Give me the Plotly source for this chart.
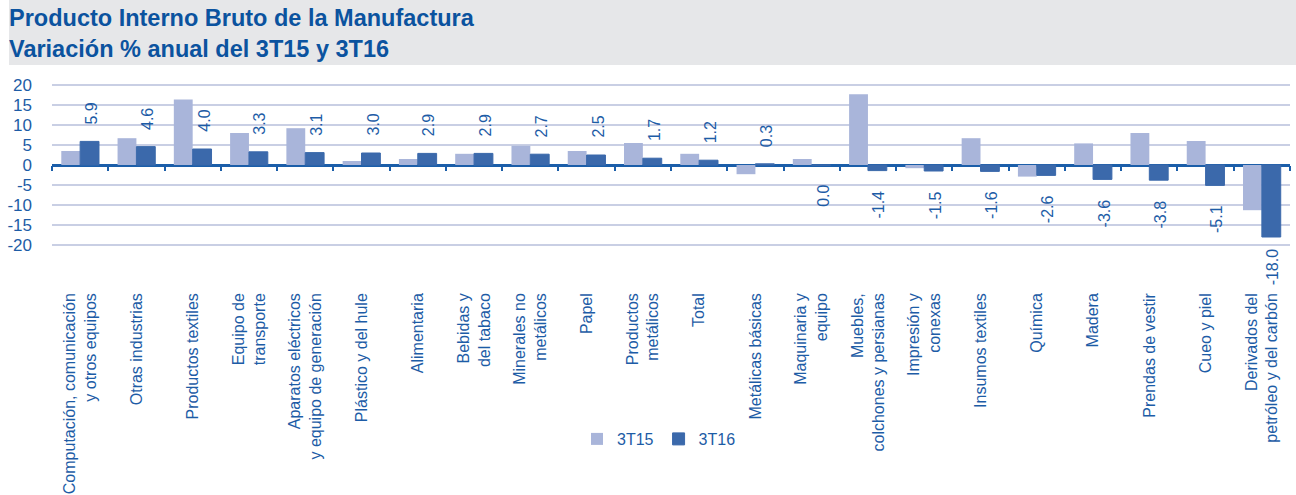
import plotly.graph_objects as go

# ---------------- data ----------------
categories = [
    "Computación, comunicación<br>y otros equipos",
    "Otras industrias",
    "Productos textiles",
    "Equipo de<br>transporte",
    "Aparatos eléctricos<br>y equipo de generación",
    "Plástico y del hule",
    "Alimentaria",
    "Bebidas y<br>del tabaco",
    "Minerales no<br>metálicos",
    "Papel",
    "Productos<br>metálicos",
    "Total",
    "Metálicas básicas",
    "Maquinaria y<br>equipo",
    "Muebles,<br>colchones y persianas",
    "Impresión y<br>conexas",
    "Insumos textiles",
    "Química",
    "Madera",
    "Prendas de vestir",
    "Cueo y piel",
    "Derivados del<br>petróleo y del carbón",
]
t15 = [3.5, 6.7, 16.4, 8.0, 9.2, 1.0, 1.5, 2.8, 4.8, 3.5, 5.5, 2.8,
       -2.3, 1.5, 17.7, -0.8, 6.7, -2.9, 5.4, 8.0, 6.0, -11.3]
t16 = [5.9, 4.6, 4.0, 3.3, 3.1, 3.0, 2.9, 2.9, 2.7, 2.5, 1.7, 1.2,
       0.3, -0.04, -1.4, -1.5, -1.6, -2.6, -3.6, -3.8, -5.1, -18.0]
t16_labels = ["5.9", "4.6", "4.0", "3.3", "3.1", "3.0", "2.9", "2.9", "2.7", "2.5",
              "1.7", "1.2", "0.3", "0.0", "-1.4", "-1.5", "-1.6", "-2.6", "-3.6",
              "-3.8", "-5.1", "-18.0"]
series_names = ["3T15", "3T16"]
y_tickvals = [20, 15, 10, 5, 0, -5, -10, -15, -20]
y_ticktext = ["20", "15", "10", "5", "0", "-5", "-10", "-15", "-20"]
title_text = "<b>Producto Interno Bruto de la Manufactura<br>Variación % anual del 3T15 y 3T16</b>"

# ---------------- style ----------------
W, H = 1296, 495
ML, MR, MT, MB = 52, 6, 83, 248
Y_MIN, Y_MAX = -20.5, 20.5
FONT = "Liberation Sans, Arial, sans-serif"
BLUE_TXT = "#1d5ca6"
TITLE_BLUE = "#0b539f"
LIGHT = "#a9b5da"
DARK = "#3b69ab"
GRID = "#c9cfe4"
ZERO = "#1b5ea9"
BAND = "#e6e7e9"

plot_w = W - ML - MR
plot_h = H - MT - MB
n = len(categories)

fig = go.Figure()
fig.add_trace(go.Bar(x=categories, y=t15, name=series_names[0],
                     marker=dict(color=LIGHT, line=dict(width=0))))
fig.add_trace(go.Bar(x=categories, y=t16, name=series_names[1],
                     marker=dict(color=DARK, line=dict(width=1, color=DARK))))
# helper (invisible) trace so the zero-line tick axis is drawn
fig.add_trace(go.Scatter(x=categories, y=t16, xaxis="x2", mode="markers",
                         marker=dict(opacity=0, size=1), showlegend=False,
                         hoverinfo="skip"))

# data labels for 3T16
for cat, v, lab in zip(categories, t16, t16_labels):
    if v >= 0:
        ya, ys = "bottom", 15
    else:
        ya, ys = "top", (-9 if v < -15 else -18)
    fig.add_annotation(x=cat, y=v, text=lab, showarrow=False, textangle=-90,
                       xref="x", yref="y", xanchor="center", yanchor=ya,
                       xshift=11, yshift=ys,
                       font=dict(family=FONT, size=16, color=BLUE_TXT))

# gray header band (paper coords computed from pixel layout)
def px_to_paper_x(px):
    return (px - ML) / plot_w

def px_to_paper_y(py):
    return (H - MB - py) / plot_h

fig.add_shape(type="rect", xref="paper", yref="paper",
              x0=px_to_paper_x(9), x1=px_to_paper_x(W + 5),
              y0=px_to_paper_y(65), y1=px_to_paper_y(-5),
              fillcolor=BAND, line=dict(width=0), layer="below")

fig.update_layout(
    width=W, height=H,
    margin=dict(l=ML, r=MR, t=MT, b=MB, autoexpand=False),
    paper_bgcolor="white", plot_bgcolor="rgba(0,0,0,0)",
    barmode="group", bargap=0.33, bargroupgap=0.0,
    font=dict(family=FONT, color=BLUE_TXT),
    title=dict(text=title_text, x=9 / W, xanchor="left", xref="container",
               y=1 - 26 / H, yanchor="top", yref="container",
               font=dict(family=FONT, size=23.5, color=TITLE_BLUE)),
    showlegend=True,
    legend=dict(orientation="h", x=px_to_paper_x(659), xanchor="center",
                y=px_to_paper_y(439), yanchor="middle",
                font=dict(family=FONT, size=16, color=BLUE_TXT),
                bgcolor="rgba(0,0,0,0)", traceorder="normal"),
    xaxis=dict(type="category", range=[-0.5, n - 0.5], autorange=False,
               tickangle=-90, showgrid=False, zeroline=False,
               showline=False, ticks="", ticklabelstandoff=42, automargin=False,
               tickfont=dict(family=FONT, size=16, color=BLUE_TXT)),
    xaxis2=dict(type="category", overlaying="x", matches="x", anchor="free",
                position=(0 - Y_MIN) / (Y_MAX - Y_MIN), side="bottom",
                ticks="outside", tickson="boundaries", ticklen=5, tickwidth=2,
                tickcolor=ZERO, showticklabels=False, showgrid=False,
                zeroline=False, showline=False),
    yaxis=dict(range=[Y_MIN, Y_MAX], tickvals=y_tickvals, ticktext=y_ticktext,
               showgrid=True, gridcolor=GRID, gridwidth=1.5,
               zeroline=True, zerolinecolor=ZERO, zerolinewidth=3,
               ticks="", ticklabelstandoff=19, automargin=False,
               tickfont=dict(family=FONT, size=17, color=BLUE_TXT)),
)

fig.write_html("out.html",
               config={"displayModeBar": False},
               post_script="document.body.style.margin='0px';"
                           "document.body.style.overflow='hidden';")
